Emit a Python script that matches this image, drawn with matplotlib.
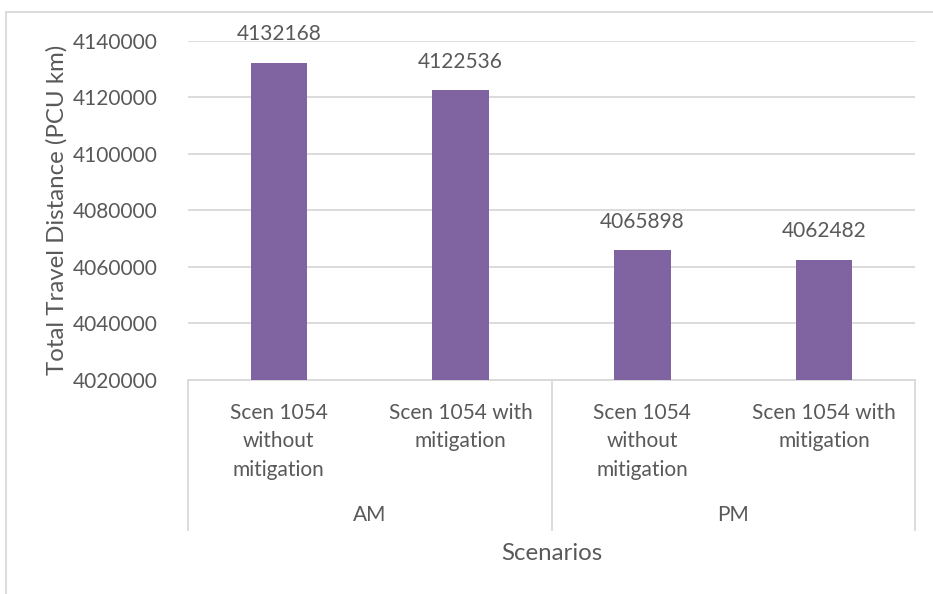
import matplotlib.pyplot as plt
from matplotlib.patches import Rectangle

# Scenario data
periods = ['AM', 'PM']
scenarios = ['Scen 1054\nwithout\nmitigation', 'Scen 1054 with\nmitigation',
             'Scen 1054\nwithout\nmitigation', 'Scen 1054 with\nmitigation']
distance = [4132168, 4122536, 4065898, 4062482]
yticks = [4020000, 4040000, 4060000, 4080000, 4100000, 4120000, 4140000]

bar_color = '#8064A2'
text_color = '#595959'
line_color = '#D9D9D9'

plt.rcParams['font.family'] = ['Lato', 'DejaVu Sans']
fs = 15
fs_title = 17.3

W, H = 933, 594
fig = plt.figure(figsize=(W / 100, H / 100), dpi=100)

# plot area in pixels: x 188..915, y 41..380
ax = fig.add_axes([188 / W, 1 - 380 / H, (915 - 188) / W, (380 - 41) / H])

x = range(len(distance))
ax.bar(x, distance, width=0.31, color=bar_color, zorder=3)
ax.set_xlim(-0.5, len(distance) - 0.5)
ax.set_ylim(yticks[0], yticks[-1])
ax.set_yticks(yticks)
ax.set_yticklabels([str(t) for t in yticks], fontsize=fs, color=text_color)
ax.tick_params(axis='y', length=0, pad=22)
ax.set_xticks([])
ax.grid(axis='y', color=line_color, linewidth=1.3, zorder=0)
for s in ['top', 'right', 'left']:
    ax.spines[s].set_visible(False)
ax.spines['bottom'].set_color(line_color)
ax.spines['bottom'].set_linewidth(1.3)

# data labels
for i, v in enumerate(distance):
    ax.annotate(str(v), (i, v), xytext=(0, 13.5), textcoords='offset points',
                ha='center', va='bottom', fontsize=fs, color=text_color)

plot_h = 380 - 41


def yfrac(py):
    return (380 - py) / plot_h


tr = ax.get_xaxis_transform()
# category labels
for i, lab in enumerate(scenarios):
    ax.text(i, yfrac(403), lab, transform=tr, ha='center', va='top',
            fontsize=fs, color=text_color, linespacing=1.52)
# group labels
for j, p in enumerate(periods):
    ax.text(2 * j + 0.5, yfrac(515), p, transform=tr, ha='center', va='center',
            fontsize=fs, color=text_color)
# group separators
for xs in [-0.5, 1.5, 3.5]:
    ax.plot([xs, xs], [0, yfrac(530)], transform=tr, color=line_color,
            linewidth=1.3, clip_on=False)

ax.text(0.5, yfrac(554), 'Scenarios', transform=ax.transAxes, ha='center',
        va='center', fontsize=fs_title, color=text_color)
fig.text(57 / W, 1 - 210 / H, 'Total Travel Distance (PCU km)', rotation=90,
         ha='center', va='center', fontsize=fs_title, color=text_color)

# chart border
fig.patches.append(Rectangle((6 / W, -0.1), 2, 1.1 - 12 / H,
                             transform=fig.transFigure, fill=False,
                             edgecolor=line_color, linewidth=1.3))

fig.savefig('out.png', dpi=100)
